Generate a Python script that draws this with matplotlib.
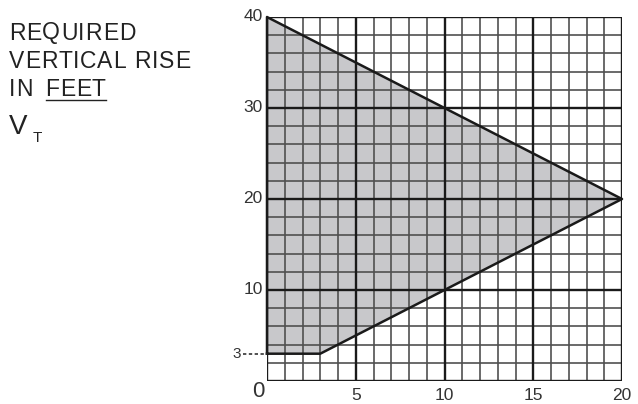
import matplotlib
matplotlib.use("Agg")
import matplotlib.pyplot as plt
import numpy as np

plt.rcParams['font.family'] = ['Liberation Sans', 'DejaVu Sans']

# data
region_x = [0, 3, 20, 0]
region_y = [3, 3, 20, 40]
x_major = [5, 10, 15, 20]
y_major = [10, 20, 30, 40]
x_minor = list(range(0, 21))
y_minor = list(range(0, 41, 2))
min_rise = 3

W, H = 638, 404
fig = plt.figure(figsize=(6.38, 4.04), dpi=100)
ax = fig.add_axes([267/W, 1-381/H, (622-267)/W, (381-17)/H])
ax.set_xlim(0, 20)
ax.set_ylim(0, 40)

ax.fill(region_x, region_y, color='#c8c8cb', zorder=0, lw=0)

for x in x_minor:
    ax.axvline(x, color='#505050', lw=1.2, zorder=1)
for y in y_minor:
    ax.axhline(y, color='#505050', lw=1.2, zorder=1)
for x in [0, 5, 10, 15, 20]:
    ax.axvline(x, color='#1a1a1a', lw=1.7, zorder=2)
for y in [0, 10, 20, 30, 40]:
    ax.axhline(y, color='#1a1a1a', lw=1.7, zorder=2)

ax.plot(region_x + [region_x[0]], region_y + [region_y[0]], color='#1a1a1a', lw=1.8, zorder=3, clip_on=False)
ax.plot([-1.35, 0], [min_rise, min_rise], color='#333333', lw=1.2, ls=(0, (2, 1.5)), clip_on=False, zorder=3)

for s in ax.spines.values():
    s.set_visible(False)
ax.set_xticks([])
ax.set_yticks([])

lc = '#333333'
for y in y_major:
    ax.text(-0.25, y, str(y), ha='right', va='center', fontsize=12.5, color=lc, clip_on=False)
ax.text(-1.45, min_rise, str(min_rise), ha='right', va='center', fontsize=11, color=lc, clip_on=False)
for x in x_major:
    ax.text(x, -0.75, str(x), ha='center', va='top', fontsize=12.5, color=lc, clip_on=False)
ax.text(-0.5, -0.05, "0", ha='center', va='top', fontsize=16, color=lc, clip_on=False)

renderer = fig.canvas.get_renderer()
tc = '#222222'
fs = 16.5

def spaced_text(x_px, y_px, s, spacing=0.8):
    x = x_px
    for ch in s:
        if ch == ' ':
            x += fs * 100 / 72 * 0.278 + spacing
            continue
        t = fig.text(x / W, 1 - y_px / H, ch, fontsize=fs, ha='left', va='center', color=tc)
        bb = t.get_window_extent(renderer)
        x += bb.width + spacing
    return x

spaced_text(9, 33, "REQUIRED")
spaced_text(9, 61, "VERTICAL RISE")
spaced_text(9, 90, "IN")
end = spaced_text(45, 90, "FEET")
fig.add_artist(plt.Line2D([46/W, (end - 1)/W], [1-99.5/H, 1-99.5/H], color=tc, lw=1))
fig.text(9/W, 1-127/H, "V", fontsize=20, ha='left', va='center', color=tc)
fig.text(33/W, 1-138/H, "T", fontsize=11, ha='left', va='center', color=tc)

fig.savefig("out.png", dpi=100)
